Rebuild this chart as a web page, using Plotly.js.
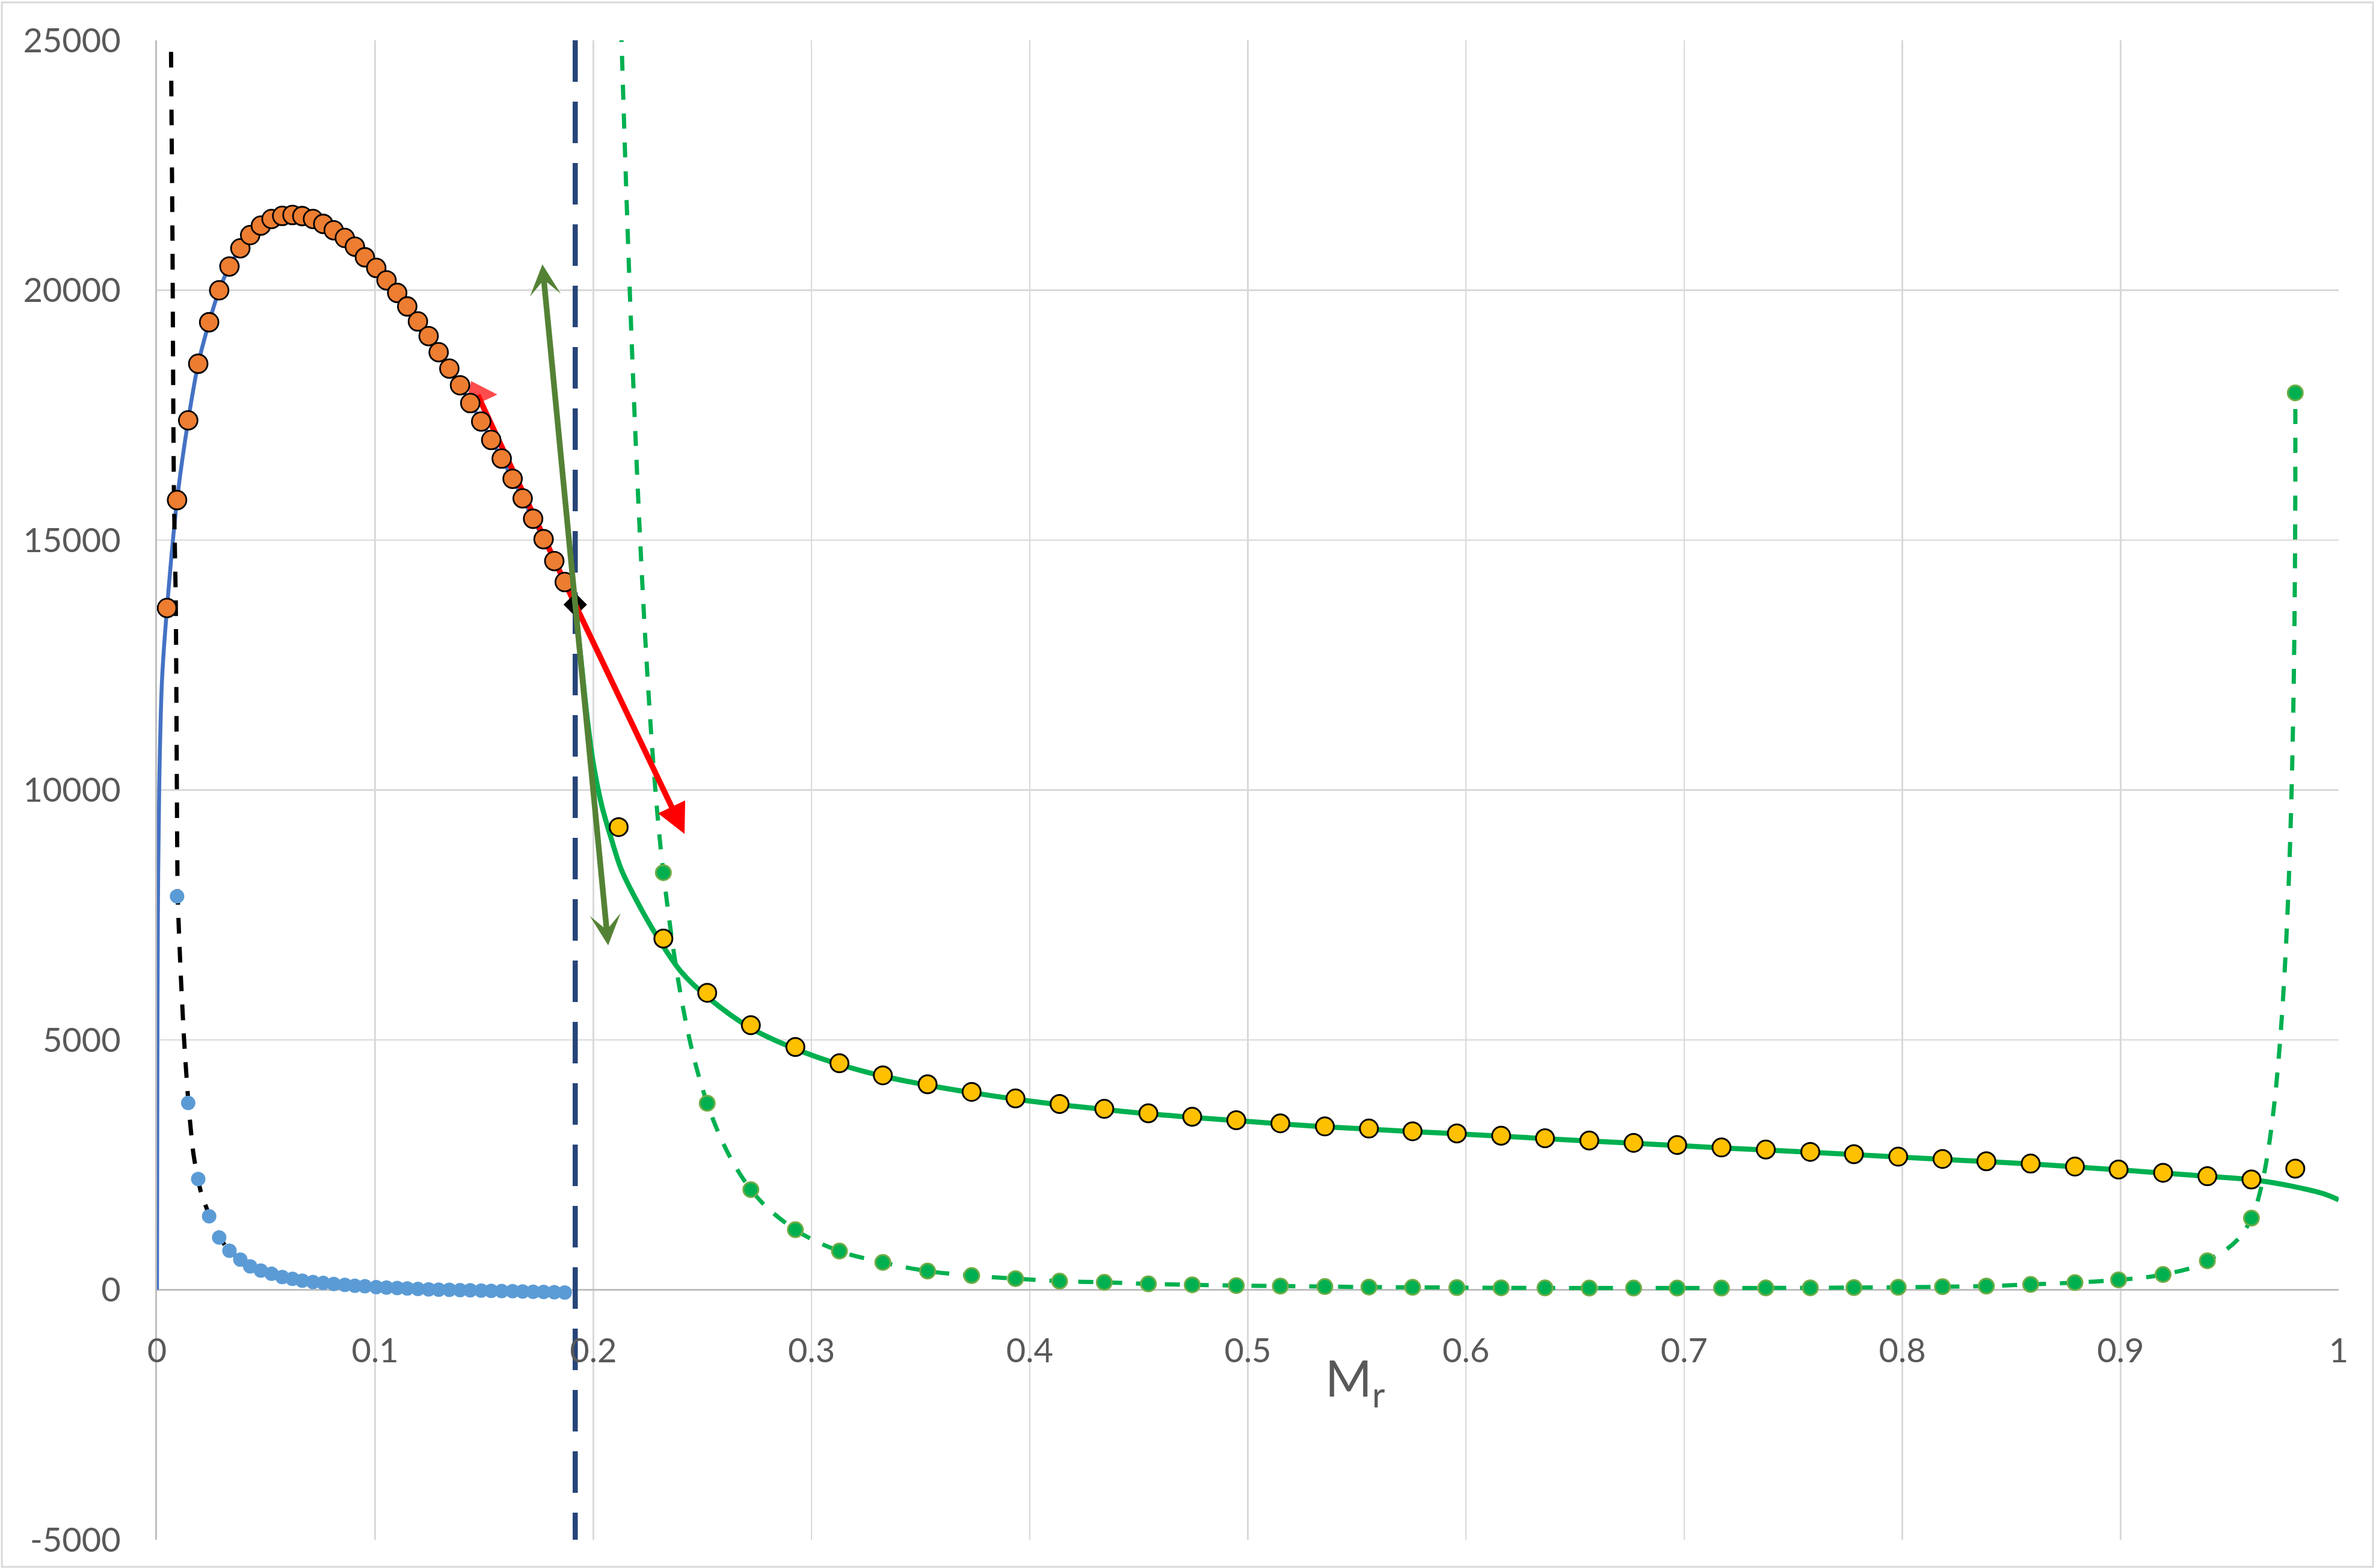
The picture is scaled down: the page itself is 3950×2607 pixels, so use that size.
<!DOCTYPE html>
<html>
<head>
<meta charset="utf-8">
<script src="https://cdn.plot.ly/plotly-3.0.1.min.js"></script>
<style>
html,body{margin:0;padding:0;background:#ffffff;}
#chart{width:3950px;height:2607px;}
</style>
</head>
<body>
<div id="chart"></div>
<script>
// ---------------- data ----------------
const orangeX = [0.0046, 0.0092, 0.0143, 0.0189, 0.0239, 0.0285, 0.0332, 0.0382, 0.0427, 0.0476,
  0.0525, 0.0574, 0.0621, 0.0666, 0.0715, 0.0762, 0.0810, 0.0861, 0.0907, 0.0953,
  0.1005, 0.1052, 0.1101, 0.1147, 0.1196, 0.1245, 0.1291, 0.1340, 0.1389, 0.1436,
  0.1486, 0.1532, 0.1580, 0.1630, 0.1676, 0.1724, 0.1772, 0.1821, 0.1869];
const orangeY = [13642, 15801, 17396, 18529, 19359, 19998, 20475, 20838, 21102, 21292,
  21425, 21487, 21505, 21483, 21425, 21327, 21200, 21045, 20872, 20659,
  20446, 20198, 19946, 19675, 19375, 19082, 18759, 18432, 18098, 17741,
  17373, 17004, 16631, 16227, 15835, 15427, 15018, 14581, 14161];

const blueDotX = [0.0092, 0.0143, 0.0189, 0.0239, 0.0285, 0.0332, 0.0382, 0.0427, 0.0476,
  0.0525, 0.0574, 0.0621, 0.0666, 0.0715, 0.0762, 0.0810, 0.0861, 0.0907, 0.0953,
  0.1005, 0.1052, 0.1101, 0.1147, 0.1196, 0.1245, 0.1291, 0.1340, 0.1389, 0.1436,
  0.1486, 0.1532, 0.1580, 0.1630, 0.1676, 0.1724, 0.1772, 0.1821, 0.1869];
const blueDotY = [7872, 3738, 2218, 1472, 1048, 781, 606, 468, 385, 321,
  256, 220, 183, 155, 137, 118, 100, 82, 72, 54,
  45, 36, 26, 17, 8, 4, 0, -5, -10, -16,
  -20, -24, -28, -32, -38, -42, -48, -55];

// blue curve: rises from the origin and runs through the orange points to the boundary point
const blueStartX = [0, 0.0001, 0.0002, 0.0004, 0.0010, 0.0023];
const blueStartY = [0, 2500, 5000, 7500, 10000, 12200];

const blackDashX = [0.0062, 0.0064, 0.0071, 0.0075, 0.0078, 0.0086, 0.0091, 0.0095, 0.0108, 0.0124,
  0.0144, 0.0167, 0.0200, 0.0246, 0.0313, 0.0384, 0.0480, 0.0575, 0.0715, 0.0861,
  0.1005, 0.1196, 0.1389, 0.1630, 0.1869];
const blackDashY = [26500, 25000, 21000, 17400, 15800, 13800, 10100, 7870, 6400, 5020,
  3740, 2720, 1980, 1430, 880, 600, 385, 260, 160, 105,
  70, 45, 30, 15, 5];

const boundaryX = 0.1917;          // vertical dashed boundary and black diamond
const boundaryY = 13710;           // black diamond value
const boundaryLineY = [25000, -5000];

const yellowX = [0.2116, 0.2321, 0.2522, 0.2722, 0.2926, 0.3128, 0.3327, 0.3532, 0.3734, 0.3935,
  0.4137, 0.4342, 0.4544, 0.4745, 0.4947, 0.5149, 0.5353, 0.5555, 0.5755, 0.5958,
  0.6161, 0.6362, 0.6565, 0.6768, 0.6968, 0.7171, 0.7374, 0.7578, 0.7778, 0.7981,
  0.8184, 0.8385, 0.8588, 0.8791, 0.8991, 0.9195, 0.9398, 0.9600, 0.9801];
const yellowY = [9258, 7028, 5943, 5294, 4858, 4533, 4291, 4112, 3960, 3829,
  3718, 3621, 3532, 3462, 3393, 3331, 3269, 3227, 3172, 3129,
  3083, 3033, 2987, 2940, 2898, 2848, 2806, 2760, 2714, 2664,
  2618, 2572, 2526, 2466, 2407, 2342, 2273, 2208, 2425];

const greenDotY = [27000, 8346, 3732, 2005, 1203, 775, 548, 375, 285, 223,
  174, 150, 120, 100, 85, 75, 65, 55, 50, 45,
  40, 38, 35, 35, 35, 35, 38, 40, 45, 50,
  62, 75, 108, 145, 200, 306, 582, 1434, 17946];

const greenLineX = [0.1917, 0.1946, 0.1973, 0.2001, 0.2038, 0.2084, 0.2129, 0.2203, 0.2295, 0.2405,
  0.2525, 0.2724, 0.2926, 0.3128, 0.3327, 0.3532, 0.3734, 0.3935, 0.4137, 0.4342,
  0.4544, 0.4745, 0.4947, 0.5149, 0.5353, 0.5555, 0.5755, 0.5958, 0.6161, 0.6362,
  0.6565, 0.6768, 0.6968, 0.7171, 0.7374, 0.7578, 0.7778, 0.7981, 0.8184, 0.8385,
  0.8588, 0.8791, 0.8991, 0.9195, 0.9398, 0.9600, 0.9801, 0.9933, 1.0];
const greenLineY = [13710, 12500, 11400, 10500, 9700, 9000, 8400, 7750, 7050, 6350,
  5850, 5230, 4820, 4510, 4275, 4095, 3945, 3815, 3705, 3610,
  3522, 3452, 3385, 3322, 3262, 3215, 3165, 3122, 3075, 3025,
  2978, 2932, 2888, 2840, 2798, 2752, 2706, 2657, 2610, 2565,
  2518, 2460, 2400, 2337, 2270, 2205, 2060, 1920, 1800];

// arrows
const redTailHead = [0.1470, 17900];   // centre of the red arrow's upper head (mostly behind the orange points)
const redTip = [0.2418, 9122];         // tip of the red arrow's lower head
const greenArrow = [0.1766, 20535, 0.2068, 6893];   // [tailX, tailY, headX, headY]

// axes
const xTickVals = [0, 0.1, 0.2, 0.3, 0.4, 0.5, 0.6, 0.7, 0.8, 0.9, 1];
const xTickText = ['0', '0.1', '0.2', '0.3', '0.4', '0.5', '0.6', '0.7', '0.8', '0.9', '1'];
const yTickVals = [-5000, 0, 5000, 10000, 15000, 20000, 25000];
const yTickText = ['-5000', '0', '5000', '10000', '15000', '20000', '25000'];
const xTitle = 'M<sub>r</sub>';

// ---------------- traces ----------------
const FONT = 'Lato, "Open Sans", "Liberation Sans", sans-serif';

const traces = [
  { // blue curve
    x: blueStartX.concat(orangeX, [boundaryX]),
    y: blueStartY.concat(orangeY, [boundaryY]),
    mode: 'lines', line: {color: '#4472C4', width: 6.5, shape: 'spline', smoothing: 1}
  },
  { // black dashed fit
    x: blackDashX, y: blackDashY,
    mode: 'lines', line: {color: '#000000', width: 7, dash: '26px,22px', shape: 'spline', smoothing: 0.6}
  },
  { // blue dots
    x: blueDotX, y: blueDotY,
    mode: 'markers', marker: {color: '#5B9BD5', size: 24, line: {width: 0}}
  },
  { // vertical dashed boundary
    x: [boundaryX, boundaryX], y: boundaryLineY,
    mode: 'lines', line: {color: '#264478', width: 8.5, dash: '69px,33px'}
  },
  { // upper part of the red arrow (lies beneath the orange points)
    x: [boundaryX, redTailHead[0]], y: [boundaryY, redTailHead[1]],
    mode: 'lines+markers',
    line: {color: '#FF0000', width: 9.5},
    marker: {symbol: 'triangle-up', angleref: 'previous', size: [0, 52], color: '#FF0000', line: {width: 0}}
  },
  { // orange points
    x: orangeX, y: orangeY,
    mode: 'markers', marker: {color: '#ED7D31', size: 31, line: {color: '#000000', width: 2.8}}
  },
  { // green solid curve
    x: greenLineX, y: greenLineY,
    mode: 'lines', line: {color: '#00B050', width: 8.5, shape: 'spline', smoothing: 1}
  },
  { // green dashed curve with dots
    x: yellowX, y: greenDotY,
    mode: 'lines+markers',
    line: {color: '#00B050', width: 7, dash: '25px,23px', shape: 'spline', smoothing: 1},
    marker: {color: '#00B050', size: 25, line: {color: '#70AD47', width: 3}}
  },
  { // yellow points
    x: yellowX, y: yellowY,
    mode: 'markers', marker: {color: '#FFC000', size: 30, line: {color: '#000000', width: 3}}
  },
  { // black diamond
    x: [boundaryX], y: [boundaryY],
    mode: 'markers', marker: {symbol: 'diamond', color: '#000000', size: 30, line: {width: 0}}
  }
];

// ---------------- layout ----------------
const layout = {
  width: 3950, height: 2607,
  margin: {l: 261, r: 62, t: 67, b: 47, pad: 0},
  paper_bgcolor: '#ffffff', plot_bgcolor: '#ffffff',
  showlegend: false,
  hovermode: false,
  font: {family: FONT, size: 56, color: '#595959'},
  xaxis: {
    range: [0, 1],
    tickvals: xTickVals, ticktext: xTickText,
    showgrid: true, gridcolor: '#D9D9D9', gridwidth: 2.5,
    zeroline: false, showline: false,
    anchor: 'free', position: 1 / 6,
    ticks: 'outside', ticklen: 52, tickcolor: 'rgba(0,0,0,0)',
    tickfont: {family: FONT, size: 56, color: '#595959'}
  },
  yaxis: {
    range: [-5000, 25000],
    tickvals: yTickVals, ticktext: yTickText,
    showgrid: true, gridcolor: '#D9D9D9', gridwidth: 2.5,
    zeroline: true, zerolinecolor: '#BFBFBF', zerolinewidth: 3,
    showline: true, linecolor: '#BFBFBF', linewidth: 3,
    ticks: 'outside', ticklen: 46, tickcolor: 'rgba(0,0,0,0)',
    tickfont: {family: FONT, size: 56, color: '#595959'}
  },
  shapes: [
    { // outer chart border
      type: 'rect', xref: 'paper', yref: 'paper',
      x0: -0.0711, x1: 1.0157, y0: -0.0181, y1: 1.0253,
      line: {color: '#D9D9D9', width: 3}, fillcolor: 'rgba(0,0,0,0)', layer: 'below'
    }
  ],
  annotations: [
    { // x axis title
      xref: 'paper', yref: 'paper', x: 0.549, y: 0.106,
      xanchor: 'center', yanchor: 'middle', showarrow: false,
      text: xTitle, font: {family: FONT, size: 84, color: '#595959'}
    },
    { // lower part of the red arrow, from the boundary point to its head
      xref: 'x', yref: 'y', axref: 'x', ayref: 'y',
      x: redTip[0], y: redTip[1], ax: boundaryX, ay: boundaryY,
      text: '', showarrow: true,
      arrowhead: 2, arrowsize: 1.05,
      arrowwidth: 9.5, arrowcolor: '#FF0000', standoff: 0, startstandoff: 0
    },
    { // green double arrow
      xref: 'x', yref: 'y', axref: 'x', ayref: 'y',
      x: greenArrow[2], y: greenArrow[3], ax: greenArrow[0], ay: greenArrow[1],
      text: '', showarrow: true, arrowside: 'end+start',
      arrowhead: 3, startarrowhead: 3, arrowsize: 0.9, startarrowsize: 0.9,
      arrowwidth: 9.5, arrowcolor: '#548235', standoff: 0, startstandoff: 0
    }
  ]
};

Plotly.newPlot('chart', traces, layout, {staticPlot: true, displayModeBar: false});
</script>
</body>
</html>
